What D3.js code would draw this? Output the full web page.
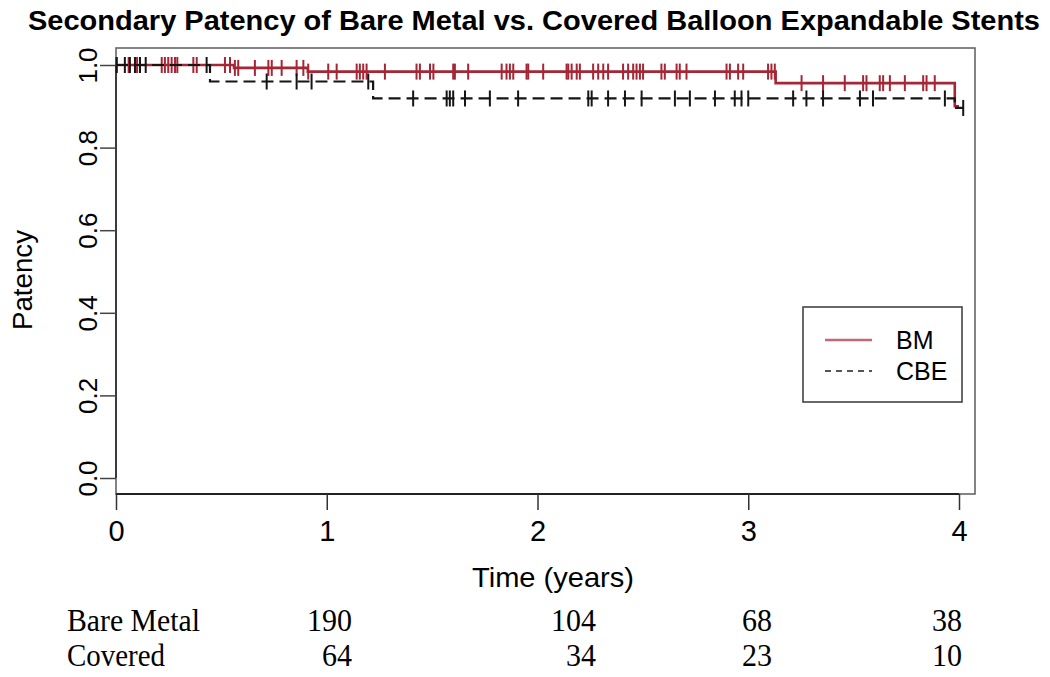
<!DOCTYPE html>
<html><head><meta charset="utf-8">
<script src="https://cdn.jsdelivr.net/npm/d3@7"></script>
<style>body{margin:0;background:#fff}svg{display:block}</style>
</head><body>
<svg id="c" width="1050" height="677"></svg>
<script>
// ---- data ----
const title = "Secondary Patency of Bare Metal vs. Covered Balloon Expandable Stents";
const xTicks = [0, 1, 2, 3, 4];
const yTicks = [0, 0.2, 0.4, 0.6, 0.8, 1.0];
const seriesNames = ["BM", "CBE"];
// Kaplan-Meier step points [time, survival]
const bmSteps = [[0, 1], [0.56, 0.993], [0.91, 0.984], [3.13, 0.956], [3.98, 0.90], [4.0, 0.90]];
const cbeSteps = [[0, 1], [0.446, 0.96], [1.22, 0.919], [3.98, 0.896], [4.02, 0.896]];
// censoring times
const bmCensor = [0.003, 0.06, 0.10, 0.217, 0.232, 0.248, 0.264, 0.280, 0.291, 0.367, 0.383,
  0.517, 0.541, 0.564, 0.580, 0.659, 0.723, 0.739, 0.786, 0.857, 0.889, 0.912, 1.007, 1.047,
  1.142, 1.157, 1.173, 1.189, 1.276, 1.426, 1.442, 1.490, 1.506, 1.600, 1.608, 1.671, 1.830,
  1.853, 1.869, 1.885, 1.948, 1.956, 2.027, 2.138, 2.146, 2.162, 2.186, 2.201, 2.264, 2.288,
  2.312, 2.335, 2.406, 2.430, 2.454, 2.470, 2.486, 2.501, 2.588, 2.604, 2.660, 2.675, 2.707,
  2.897, 2.913, 2.952, 2.976, 3.094, 3.110, 3.126, 3.253, 3.355, 3.458, 3.545, 3.561, 3.624,
  3.640, 3.672, 3.743, 3.830, 3.846, 3.885];
const cbeCensor = [0.003, 0.042, 0.066, 0.090, 0.114, 0.141, 0.43, 0.715, 0.857, 0.928, 1.197,
  1.410, 1.569, 1.584, 1.600, 1.656, 1.774, 1.908, 2.241, 2.257, 2.335, 2.415, 2.494, 2.652,
  2.723, 2.842, 2.936, 2.968, 3.000, 3.213, 3.276, 3.355, 3.530, 3.592, 3.933, 4.02];
// numbers at risk table
const tableRows = ["Bare Metal", "Covered"];
const bmAtRisk = [190, 104, 68, 38];
const cbeAtRisk = [64, 34, 23, 10];

// ---- layout ----
const svg = d3.select("#c");
const x = d3.scaleLinear().domain([0, 4]).range([116, 959]);
const y = d3.scaleLinear().domain([0, 1]).range([478, 65]);
const frame = {l: 116, r: 975, t: 48, b: 494};
const red = "#a52634", blk = "#151515";

// title
svg.append("text").attr("x", 534).attr("y", 30).attr("text-anchor", "middle")
  .attr("font-family", "Liberation Sans, Arial, sans-serif").attr("font-weight", "bold")
  .attr("font-size", 28).attr("textLength", 1012).attr("lengthAdjust", "spacingAndGlyphs")
  .text(title);

// frame
svg.append("rect").attr("x", frame.l).attr("y", frame.t).attr("width", frame.r - frame.l)
  .attr("height", frame.b - frame.t).attr("fill", "none").attr("stroke", "#666").attr("stroke-width", 1.6);

// x axis
const gx = svg.append("g").attr("transform", `translate(0,${frame.b})`)
  .call(d3.axisBottom(x).tickValues(xTicks).tickFormat(d3.format("d")).tickSize(16).tickPadding(10));
gx.select(".domain").attr("stroke", "#222").attr("stroke-width", 2.2).attr("d", `M${x(0)},0H${x(4)}`);
gx.selectAll(".tick line").attr("stroke", "#333").attr("stroke-width", 1.5);
gx.selectAll(".tick text").attr("font-family", "Liberation Sans, Arial, sans-serif")
  .attr("font-size", 29).attr("fill", "#000");

// y axis
const gy = svg.append("g").attr("transform", `translate(${frame.l},0)`)
  .call(d3.axisLeft(y).tickValues(yTicks).tickFormat(d3.format(".1f")).tickSize(16).tickPadding(0));
gy.select(".domain").attr("stroke", "#333").attr("stroke-width", 1.8).attr("d", `M0,${y(0)}V${y(1)}`);
gy.selectAll(".tick line").attr("stroke", "#444").attr("stroke-width", 1.5);
gy.selectAll(".tick text").attr("font-family", "Liberation Sans, Arial, sans-serif")
  .attr("font-size", 26).attr("fill", "#000").attr("text-anchor", "middle")
  .attr("transform", "rotate(-90)").attr("x", 0).attr("y", -19).attr("dy", 0)
  .attr("dominant-baseline", "auto");

// axis titles
svg.append("text").attr("x", 553).attr("y", 587).attr("text-anchor", "middle")
  .attr("font-family", "Liberation Sans, Arial, sans-serif").attr("font-size", 28)
  .attr("textLength", 162).attr("lengthAdjust", "spacingAndGlyphs").text("Time (years)");
svg.append("text").attr("transform", "translate(32,280) rotate(-90)").attr("text-anchor", "middle")
  .attr("font-family", "Liberation Sans, Arial, sans-serif").attr("font-size", 27)
  .attr("textLength", 100).attr("lengthAdjust", "spacingAndGlyphs").text("Patency");

// curves
const line = d3.line().x(d => x(d[0])).y(d => y(d[1])).curve(d3.curveStepAfter);
function survAt(steps, t) {
  let s = steps[0][1];
  for (const p of steps) if (p[0] <= t) s = p[1];
  return s;
}
function drawCurve(steps, censor, color, width, dash) {
  const g = svg.append("g");
  g.append("path").attr("d", line(steps)).attr("fill", "none").attr("stroke", color)
    .attr("stroke-width", width).attr("stroke-dasharray", dash);
  g.selectAll("line.c").data(censor).join("line")
    .attr("x1", d => x(d)).attr("x2", d => x(d))
    .attr("y1", d => y(survAt(steps, d)) - 8).attr("y2", d => y(survAt(steps, d)) + 8)
    .attr("stroke", color).attr("stroke-width", 2);
}
drawCurve(bmSteps, bmCensor, red, 2.6, null);
drawCurve(cbeSteps, cbeCensor, blk, 2.2, "12,6");

// legend
const lg = svg.append("g");
lg.append("rect").attr("x", 803).attr("y", 307).attr("width", 159).attr("height", 95)
  .attr("fill", "#fff").attr("stroke", "#444").attr("stroke-width", 1.6);
const legItems = [{name: seriesNames[0], color: "#c46878", dash: null, w: 2.6},
                  {name: seriesNames[1], color: "#555", dash: "6,5", w: 2}];
legItems.forEach((d, i) => {
  const yy = 340 + i * 31;
  lg.append("line").attr("x1", 825).attr("x2", 872).attr("y1", yy).attr("y2", yy)
    .attr("stroke", d.color).attr("stroke-width", d.w).attr("stroke-dasharray", d.dash);
  lg.append("text").attr("x", 896).attr("y", yy + 9).attr("font-family", "Liberation Sans, Arial, sans-serif")
    .attr("font-size", 25).text(d.name);
});

// at-risk table
const colRight = [352, 596, 772, 962];
const tbl = svg.append("g").attr("font-family", "Liberation Serif, 'DejaVu Serif', serif")
  .attr("font-size", 31).attr("fill", "#000");
[bmAtRisk, cbeAtRisk].forEach((vals, r) => {
  const yy = 631 + r * 35;
  tbl.append("text").attr("x", 67).attr("y", yy).text(tableRows[r])
    .attr("textLength", r === 0 ? 133 : 98).attr("lengthAdjust", "spacingAndGlyphs");
  vals.forEach((v, i) => {
    tbl.append("text").attr("x", colRight[i]).attr("y", yy).attr("text-anchor", "end")
      .attr("textLength", String(v).length * 15).attr("lengthAdjust", "spacingAndGlyphs").text(v);
  });
});
</script>
</body></html>
